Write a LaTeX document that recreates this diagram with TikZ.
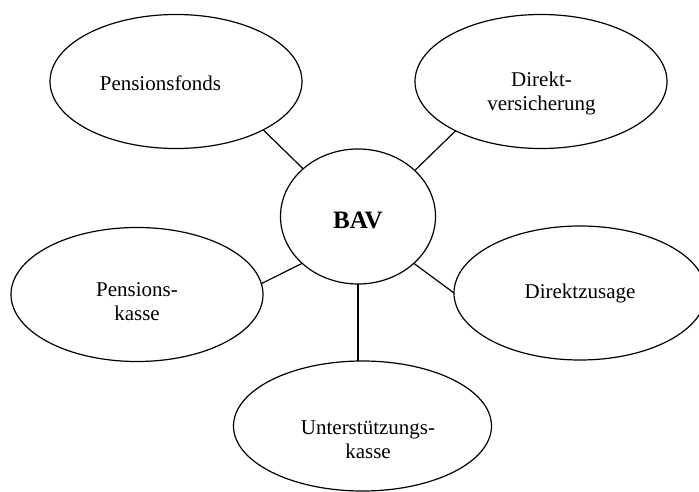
\documentclass[tikz,border=0pt]{standalone}
\usepackage{fontspec}
\setmainfont{Liberation Serif}
\usetikzlibrary{shapes.geometric}
\begin{document}
\begin{tikzpicture}[x=1pt,y=-1pt,
  oval/.style={draw=black, line width=1.2pt, ellipse, minimum width=252pt, minimum height=134pt, inner sep=0pt, outer sep=0pt},
  lbl/.style={font=\fontsize{21}{24}\selectfont, align=center, inner sep=0pt},
  link/.style={draw=black, line width=1.2pt}]
\useasboundingbox (0,0) rectangle (699,492);
% outer ovals
\node[oval] (pf) at (176,81.5) {};
\node[oval] (dv) at (541,81.5) {};
\node[oval] (pk) at (137,294.5) {};
\node[oval, lbl, line width=1.2pt] (dz) at (580,293) {Direktzusage};
\node[oval, minimum width=258pt, minimum height=130pt] (uk) at (362.5,426) {};
% centre
\node[oval, minimum width=155pt, minimum height=135pt,
      font=\fontsize{25}{30}\selectfont\bfseries, text height=23pt, text depth=0pt] (bav) at (358,216.5) {BAV};
% labels
\node[lbl] (tpf) at (160.5,82.8) {Pensionsfonds};
\node[lbl] (tdv) at (541.5,93.2) {Direkt-\\versicherung};
\node[lbl] (tpk) at (137,301.5) {Pensions-\\kasse};
\node[lbl] (tuk) at (368,440) {Unterstützungs-\\kasse};
% connectors
\draw[link] (pf.-29.6) -- (bav.139.1);
\draw[link] (dv.-150.4) -- (bav.39.9);
\draw[link] (pk.5) -- (bav.220.9);
\draw[link] (dz.180) -- (bav.-40.9);
\draw[link] (bav.south) -- (bav.south |- uk.north);
\end{tikzpicture}
\end{document}
